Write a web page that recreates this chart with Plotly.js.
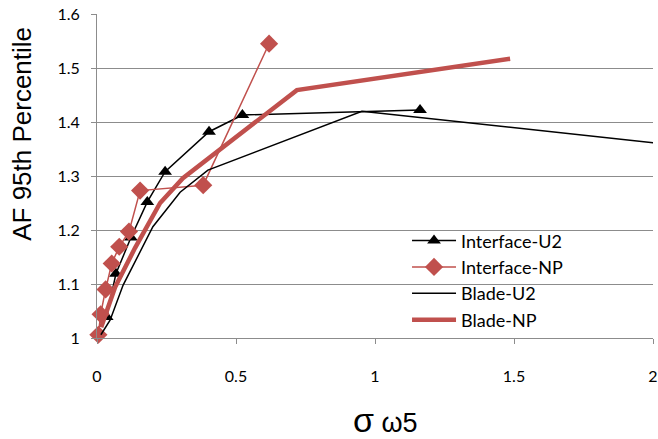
<!DOCTYPE html>
<html>
<head>
<meta charset="utf-8">
<script src="https://cdn.plot.ly/plotly-3.0.1.min.js"></script>
<style>
  html, body { margin: 0; padding: 0; background: #fff; }
  #chart { width: 658px; height: 439px; }
</style>
</head>
<body>
<div id="chart"></div>
<script>
// Series: 95th-percentile amplification factor against sigma omega5
const interfaceU2X = [0.035, 0.068, 0.122, 0.181, 0.245, 0.403, 0.523, 1.162];
const interfaceU2Y = [1.039, 1.119, 1.186, 1.252, 1.308, 1.382, 1.413, 1.422];

const interfaceNPX = [0.005, 0.013, 0.031, 0.053, 0.080, 0.115, 0.155, 0.382, 0.619];
const interfaceNPY = [1.006, 1.044, 1.090, 1.138, 1.169, 1.197, 1.273, 1.283, 1.545];

const bladeU2X = [0.014, 0.047, 0.094, 0.201, 0.299, 0.399, 0.953, 2.007];
const bladeU2Y = [1.006, 1.033, 1.098, 1.206, 1.270, 1.311, 1.420, 1.361];

const bladeNPX = [0.015, 0.065, 0.137, 0.227, 0.309, 0.719, 1.486];
const bladeNPY = [1.020, 1.094, 1.167, 1.250, 1.296, 1.459, 1.517];

const seriesNames = ['Interface-U2', 'Interface-NP', 'Blade-U2', 'Blade-NP'];
const xTitle = '<span style="font-size:34px">σ</span> <span style="font-size:27px">ω5</span>';
const yTitle = 'AF 95th Percentile';

const RED = '#C0504D';
const GRID = '#8c8c8c';

const traces = [
  {
    x: interfaceU2X, y: interfaceU2Y, name: seriesNames[0],
    type: 'scatter', mode: 'lines+markers',
    line: { color: '#000000', width: 1.5 },
    marker: { symbol: 'triangle-up', size: 12, color: '#000000' },
    cliponaxis: false
  },
  {
    x: interfaceNPX, y: interfaceNPY, name: seriesNames[1],
    type: 'scatter', mode: 'lines+markers',
    line: { color: RED, width: 1.5 },
    marker: { symbol: 'diamond', size: 14, color: RED },
    cliponaxis: false
  },
  {
    x: bladeU2X, y: bladeU2Y, name: seriesNames[2],
    type: 'scatter', mode: 'lines',
    line: { color: '#000000', width: 1.5 }
  },
  {
    x: bladeNPX, y: bladeNPY, name: seriesNames[3],
    type: 'scatter', mode: 'lines',
    line: { color: RED, width: 4.5 }
  }
];

const layout = {
  width: 658, height: 439,
  margin: { l: 97, r: 5, t: 14, b: 101 },
  paper_bgcolor: '#ffffff', plot_bgcolor: '#ffffff',
  font: { family: 'Lato, "Open Sans", sans-serif', size: 16, color: '#000000' },
  showlegend: true,
  legend: {
    x: 0.5576, y: 0.357, xanchor: 'left', yanchor: 'top',
    bgcolor: 'rgba(255,255,255,0)', borderwidth: 0,
    itemwidth: 44,
    font: { family: 'Lato, sans-serif', size: 18, color: '#000000' },
    tracegroupgap: 0
  },
  xaxis: {
    range: [0, 2], dtick: 0.5, tick0: 0,
    showgrid: false, zeroline: false,
    showline: true, linecolor: GRID, linewidth: 1,
    ticks: 'outside', ticklen: 5, tickcolor: GRID,
    ticklabelstandoff: 19,
    tickfont: { family: 'Lato, sans-serif', size: 16 }
  },
  yaxis: {
    range: [1, 1.6], dtick: 0.1, tick0: 1,
    showgrid: true, gridcolor: GRID, gridwidth: 1,
    zeroline: false,
    showline: true, linecolor: GRID, linewidth: 1,
    ticks: 'outside', ticklen: 5, tickcolor: GRID,
    ticklabelstandoff: 8,
    tickfont: { family: 'Lato, sans-serif', size: 16 }
  },
  // axis titles placed as paper-anchored annotations
  annotations: [
    {
      text: xTitle, xref: 'paper', yref: 'paper',
      x: 0.518, y: -0.252, xanchor: 'center', yanchor: 'middle',
      showarrow: false,
      font: { family: 'Liberation Sans, Arial, sans-serif', size: 27, color: '#000000' }
    },
    {
      text: yTitle, xref: 'paper', yref: 'paper',
      x: -0.135, y: 0.63, xanchor: 'center', yanchor: 'middle',
      textangle: -90, showarrow: false,
      font: { family: 'Liberation Sans, Arial, sans-serif', size: 26, color: '#000000' }
    }
  ]
};

Plotly.newPlot('chart', traces, layout, { displayModeBar: false, staticPlot: true });
</script>
</body>
</html>
